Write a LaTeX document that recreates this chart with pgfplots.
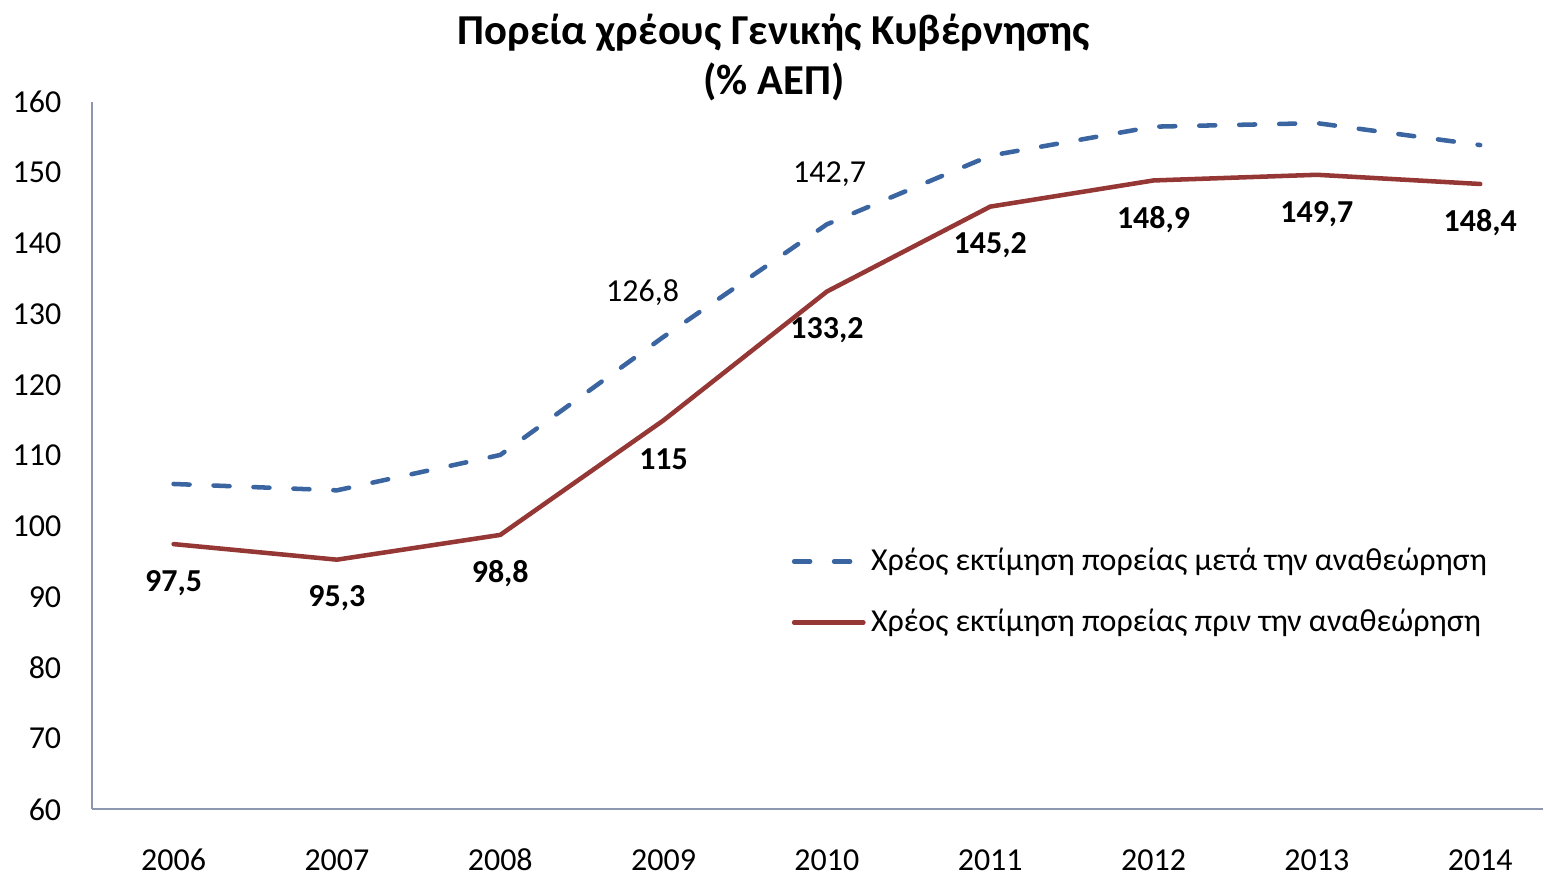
\documentclass[border=0pt]{standalone}
\usepackage{pgfplots}
\pgfplotsset{compat=1.18}
\usepackage{fontspec}
\setmainfont{Carlito}
\definecolor{dblue}{HTML}{3A65A0}
\definecolor{dred}{HTML}{953735}
\definecolor{axgray}{HTML}{8E97B0}
\begin{document}
\begin{tikzpicture}
\begin{axis}[
  scale only axis,
  width=544.5pt, height=265.5pt,
  xmin=2005.5, xmax=2014.384,
  ymin=60, ymax=160,
  xtick={2006,2007,2008,2009,2010,2011,2012,2013,2014},
  ytick={60,70,80,90,100,110,120,130,140,150,160},
  axis x line=bottom, axis y line=left,
  axis line style={-, color=axgray, line width=0.8pt},
  major tick length=0pt,
  tick label style={font=\fontsize{12}{14}\selectfont},
  /pgf/number format/assume math mode=true,
  /pgf/number format/1000 sep={},
  yticklabel style={xshift=-8pt},
  xticklabel style={yshift=-11pt, text height=8.5pt, text depth=0pt},
  clip=false,
  title={Πορεία χρέους Γενικής Κυβέρνησης\\(\% ΑΕΠ)},
  title style={at={(0.47,1)}, anchor=south, align=center, inner sep=0pt, yshift=-5.7pt,
    font=\bfseries\fontsize{16}{18.75}\selectfont},
  legend style={at={(0.4765,0.385)}, anchor=north west, draw=none, fill=none,
    font=\fontsize{12}{14}\selectfont, /tikz/row sep=9pt,
    nodes={inner xsep=2pt}},
  legend cell align=left,
  legend image code/.code={\draw[#1] (0pt,0pt) -- (26pt,0pt);},
]
\addplot[dblue, line width=1.7pt, line cap=round, dash pattern=on 6pt off 9pt] coordinates {
 (2006,106.0) (2007,105.1) (2008,110.1) (2009,126.8) (2010,142.7)
 (2011,152.4) (2012,156.5) (2013,157.0) (2014,153.9)};
\addlegendentry{Χρέος εκτίμηση πορείας μετά την αναθεώρηση}
\addplot[dred, line width=1.7pt, line cap=round,
  nodes near coords, point meta=explicit symbolic,
  every node near coord/.append style={anchor=center, yshift=-14.6pt, black,
    font=\bfseries\fontsize{12}{14}\selectfont}] coordinates {
 (2006,97.5) [97,5] (2007,95.3) [95,3] (2008,98.8) [98,8] (2009,115) [115]
 (2010,133.2) [133,2] (2011,145.2) [145,2] (2012,148.9) [148,9]
 (2013,149.7) [149,7] (2014,148.4) [148,4]};
\addlegendentry{Χρέος εκτίμηση πορείας πριν την αναθεώρηση}
\node[font=\fontsize{12}{14}\selectfont, xshift=-7.9pt, yshift=16.5pt] at (axis cs:2009,126.8) {126,8};
\node[font=\fontsize{12}{14}\selectfont, xshift=1pt, yshift=18.75pt] at (axis cs:2010,142.7) {142,7};
\path (rel axis cs:0,0) ++(-34.5pt,-25.1pt);
\path (rel axis cs:1,1) ++(0pt,38.25pt);
\end{axis}
\end{tikzpicture}
\end{document}
